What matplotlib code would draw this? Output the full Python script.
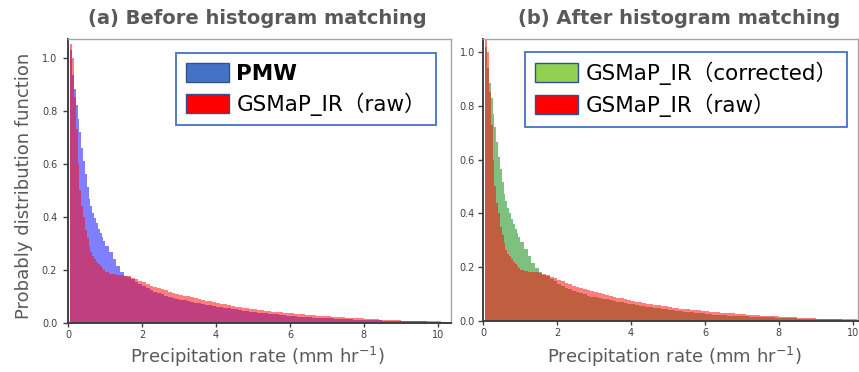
import numpy as np
import matplotlib.pyplot as plt
from matplotlib.patches import Patch

plt.rcParams['mathtext.default'] = 'regular'

# bin edges (mm/hr): 0.05 wide below 1, 0.1 wide above
edges_fine = np.arange(0.05, 1.0001, 0.05)
edges_tail = np.arange(1.1, 10.4001, 0.1)
bin_edges = np.concatenate([edges_fine, edges_tail])

# probability density per bin
pmw = [1.03, 0.935, 0.88, 0.82, 0.77, 0.72, 0.66, 0.61, 0.56, 0.51, 0.465, 0.44, 0.415,
       0.395, 0.375, 0.355, 0.338, 0.322, 0.308,
       0.290, 0.265, 0.240, 0.212, 0.192, 0.178, 0.172, 0.165, 0.155, 0.145,
       0.137, 0.130, 0.123, 0.117, 0.112, 0.107, 0.102, 0.097, 0.093, 0.089,
       0.087, 0.084, 0.081, 0.078, 0.076, 0.073, 0.071, 0.068, 0.066, 0.063,
       0.061, 0.058, 0.056, 0.054, 0.052, 0.050, 0.048, 0.046, 0.043, 0.041,
       0.040, 0.038, 0.037, 0.035, 0.034, 0.032, 0.031, 0.029, 0.028, 0.026,
       0.025, 0.024, 0.023, 0.022, 0.021, 0.020, 0.019, 0.018, 0.017, 0.017,
       0.016, 0.016, 0.015, 0.014, 0.014, 0.013, 0.013, 0.012, 0.012, 0.011,
       0.011, 0.010, 0.010, 0.009, 0.009, 0.008, 0.008, 0.008, 0.007, 0.007,
       0.006, 0.006, 0.006, 0.005, 0.005, 0.005, 0.005, 0.004, 0.004, 0.004,
       0.004, 0.003, 0.003, 0.003]
gsmap_raw = [1.05, 1.00, 0.85, 0.73, 0.60, 0.50, 0.44, 0.40, 0.35, 0.32, 0.29, 0.265, 0.25,
             0.24, 0.23, 0.22, 0.212, 0.205, 0.198,
             0.190, 0.185, 0.183, 0.181, 0.180, 0.178, 0.175, 0.170, 0.164, 0.158,
             0.152, 0.146, 0.140, 0.135, 0.130, 0.126, 0.122, 0.117, 0.113, 0.109,
             0.106, 0.102, 0.099, 0.096, 0.092, 0.089, 0.086, 0.083, 0.080, 0.077,
             0.074, 0.071, 0.069, 0.066, 0.064, 0.061, 0.059, 0.057, 0.055, 0.053,
             0.051, 0.049, 0.047, 0.045, 0.044, 0.042, 0.041, 0.039, 0.038, 0.036,
             0.035, 0.034, 0.032, 0.031, 0.030, 0.029, 0.028, 0.027, 0.026, 0.025,
             0.024, 0.023, 0.022, 0.021, 0.020, 0.019, 0.018, 0.017, 0.016, 0.016,
             0.015, 0.014, 0.013, 0.013, 0.012, 0.011, 0.011, 0.010, 0.010, 0.009,
             0.008, 0.008, 0.007, 0.007, 0.007, 0.006, 0.006, 0.006, 0.005, 0.005,
             0.005, 0.004, 0.004, 0.004]
gsmap_corr = [1.02, 0.94, 0.885, 0.83, 0.77, 0.72, 0.665, 0.61, 0.565, 0.515, 0.47, 0.445, 0.42,
              0.40, 0.38, 0.36, 0.342, 0.325, 0.31,
              0.292, 0.267, 0.242, 0.215, 0.195, 0.180, 0.172, 0.165, 0.155, 0.146,
              0.137, 0.130, 0.123, 0.118, 0.112, 0.107, 0.102, 0.098, 0.093, 0.089,
              0.087, 0.084, 0.081, 0.079, 0.076, 0.073, 0.071, 0.068, 0.066, 0.063,
              0.061, 0.058, 0.056, 0.054, 0.052, 0.050, 0.048, 0.046, 0.044, 0.042,
              0.040, 0.038, 0.037, 0.035, 0.034, 0.032, 0.031, 0.029, 0.028, 0.027,
              0.025, 0.024, 0.023, 0.022, 0.021, 0.020, 0.019, 0.018, 0.017, 0.017,
              0.016, 0.016, 0.015, 0.014, 0.014, 0.013, 0.013, 0.012, 0.012, 0.011,
              0.011, 0.010, 0.010, 0.009, 0.009, 0.008, 0.008, 0.008, 0.007, 0.007,
              0.006, 0.006, 0.006, 0.005, 0.005, 0.005, 0.005, 0.004, 0.004, 0.004,
              0.004, 0.003, 0.003, 0.003]

yticks = [0.0, 0.2, 0.4, 0.6, 0.8, 1.0]
xticks = [0, 2, 4, 6, 8, 10]

W, H = 859, 372
fig = plt.figure(figsize=(W / 100, H / 100), dpi=100)
ax1 = fig.add_axes([68.3 / W, 1 - 322.7 / H, 382.7 / W, 283.4 / H])
ax2 = fig.add_axes([483.3 / W, 1 - 320.7 / H, 374.7 / W, 281.4 / H])

ax1.stairs(pmw, bin_edges, fill=True, color='blue', alpha=0.5, lw=0)
ax1.stairs(gsmap_raw, bin_edges, fill=True, color='red', alpha=0.5, lw=0)
ax2.stairs(gsmap_corr, bin_edges, fill=True, color='green', alpha=0.5, lw=0)
ax2.stairs(gsmap_raw, bin_edges, fill=True, color='red', alpha=0.5, lw=0)

ax1.set_xlim(0, 10.36)
ax1.set_ylim(0, 1.069)
ax2.set_xlim(0, 10.14)
ax2.set_ylim(0, 1.048)

for ax, ypad in [(ax1, 4.5), (ax2, 2.5)]:
    ax.set_xticks(xticks)
    ax.set_yticks(yticks)
    ax.set_yticklabels(['{:.1f}'.format(v) for v in yticks])
    ax.tick_params(axis='x', length=3, width=1, pad=2, labelsize=7, colors='#404040')
    ax.tick_params(axis='y', length=3.5, width=1, pad=ypad, labelsize=7, colors='#404040')
    for s in ['left', 'bottom']:
        ax.spines[s].set_color('#404040')
        ax.spines[s].set_linewidth(1.4)
    for s in ['top', 'right']:
        ax.spines[s].set_color('#a6a6a6')
        ax.spines[s].set_linewidth(1.0)

fam = ['DejaVu Sans', 'Noto Sans CJK JP']
gray = '#595959'

fig.text(257 / W, 1 - 19 / H, '(a) Before histogram matching', ha='center', va='center',
         fontsize=14, fontweight='bold', color=gray)
fig.text(679 / W, 1 - 19 / H, '(b) After histogram matching', ha='center', va='center',
         fontsize=14, fontweight='bold', color=gray)
fig.text(24 / W, 1 - 186 / H, 'Probably distribution function', rotation=90,
         ha='center', va='center', fontsize=13, color=gray)
xlab = 'Precipitation rate (mm hr$^{-1}$)'
fig.text(257 / W, 1 - 357 / H, xlab, ha='center', va='center', fontsize=13, color=gray)
fig.text(674 / W, 1 - 357 / H, xlab, ha='center', va='center', fontsize=13, color=gray)

leg_kw = dict(loc='upper left', bbox_transform=fig.transFigure, borderaxespad=0,
              fancybox=False, framealpha=1, handlelength=2.0, handleheight=1.0,
              handletextpad=0.35, borderpad=0.45, labelspacing=0.4)

h1 = [Patch(facecolor='#4472c4', edgecolor='#2f528f'),
      Patch(facecolor='#ff0000', edgecolor='#2f528f')]
leg1 = ax1.legend(h1, ['PMW', 'GSMaP_IR（raw）'], bbox_to_anchor=(176 / W, 1 - 53 / H),
                  prop={'family': fam, 'size': 15.5}, **leg_kw)
leg1.get_texts()[0].set_fontweight('bold')
leg1.get_frame().set_edgecolor('#4472c4')
leg1.get_frame().set_linewidth(1.3)

h2 = [Patch(facecolor='#92d050', edgecolor='#2f528f'),
      Patch(facecolor='#ff0000', edgecolor='#2f528f')]
leg2 = ax2.legend(h2, ['GSMaP_IR（corrected）', 'GSMaP_IR（raw）'],
                  bbox_to_anchor=(525 / W, 1 - 52 / H),
                  prop={'family': fam, 'size': 15.5}, **leg_kw)
leg2.get_frame().set_edgecolor('#4472c4')
leg2.get_frame().set_linewidth(1.3)

fig.savefig('out.png', dpi=100)
